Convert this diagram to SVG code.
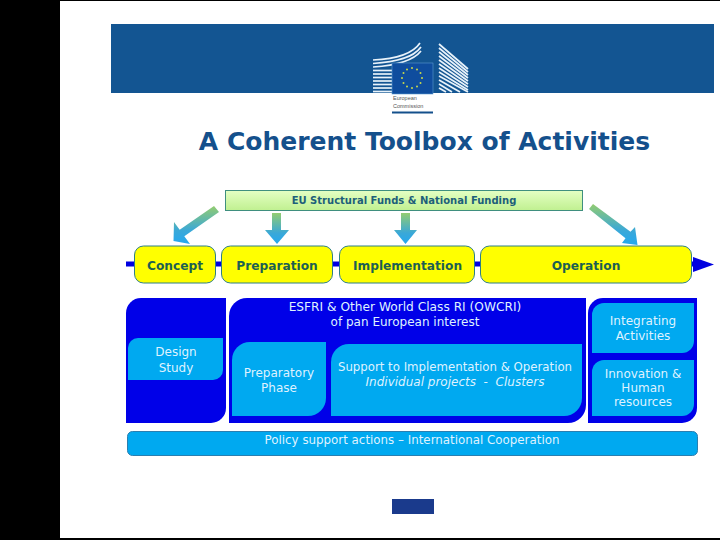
<svg xmlns="http://www.w3.org/2000/svg" width="720" height="540" viewBox="0 0 720 540">
<style>
.t{font-family:"DejaVu Sans","Liberation Sans",sans-serif;text-anchor:middle}
.w{fill:#dff2ff;font-size:12px}
.y{fill:#1d5f52;font-size:12.200px;font-weight:bold}
.deep{fill:#0000e8}
.light{fill:#00a9f0}
.yel{fill:#ffff00;stroke:#2f7f86;stroke-width:1}
.arr{fill:url(#ag)}
.st{fill:none;stroke:#e8f2fa;stroke-width:1.700}
</style>
<defs>
<linearGradient id="ag" x1="0" y1="0" x2="0" y2="1"><stop offset="0" stop-color="#93cc70"/><stop offset="0.650" stop-color="#3aa8d8"/><stop offset="1" stop-color="#24a8f0"/></linearGradient>
<linearGradient id="gb" x1="0" y1="0" x2="0" y2="1"><stop offset="0" stop-color="#e4ffc4"/><stop offset="1" stop-color="#c0f090"/></linearGradient>
</defs>
<rect width="720" height="540" fill="#fff"/>
<rect width="60" height="540" fill="#000"/>
<rect width="720" height="1" fill="#000"/>
<rect y="538" width="720" height="2" fill="#000"/>
<g id="banner">
<rect x="111" y="24" width="603" height="69" fill="#135592"/>
<g class="st">
<path d="M373 60C395 59 412 55 420 43"/><path d="M373 63.500C396 62 413 58 421 47"/><path d="M373 67C396 65.500 413 61 421 51"/><path d="M373 70.500H392"/><path d="M373 74H392"/><path d="M373 77.500H392"/><path d="M373 81H392"/><path d="M373 84.500H392"/><path d="M373 88H392"/><path d="M373 91.500H392"/>
<path d="M439 44L468 69"/><path d="M439 48L468 72"/><path d="M439 52L468 75"/><path d="M439 56L468 78"/><path d="M439 60L468 81"/><path d="M439 64L468 84"/><path d="M439 68L468 87"/><path d="M439 72L468 90"/><path d="M439 76L468 92"/><path d="M439 80L460 92"/><path d="M439 84L452 92"/><path d="M439 88L446 92"/>
</g>
<rect x="392" y="63" width="41" height="31" fill="#0f4d9e" stroke="#5c9ad0" stroke-width="0.6"/>
<g fill="#c9d84a"><circle cx="412" cy="68" r="1"/><circle cx="417" cy="69.500" r="1"/><circle cx="420.500" cy="73" r="1"/><circle cx="422" cy="78" r="1"/><circle cx="420.500" cy="83" r="1"/><circle cx="417" cy="86.500" r="1"/><circle cx="412" cy="88" r="1"/><circle cx="407" cy="86.500" r="1"/><circle cx="403.500" cy="83" r="1"/><circle cx="402" cy="78" r="1"/><circle cx="403.500" cy="73" r="1"/><circle cx="407" cy="69.500" r="1"/></g>
<text x="393" y="100" font-family="Liberation Sans,sans-serif" font-size="5.500" fill="#555">European</text>
<text x="393" y="108" font-family="Liberation Sans,sans-serif" font-size="5.500" fill="#555">Commission</text>
<rect x="392" y="111.500" width="41" height="2" fill="#14508c"/>
</g>
<text class="t" x="424.500" y="150" font-size="25" font-weight="bold" fill="#14508c">A Coherent Toolbox of Activities</text>
<g id="funding">
<rect x="225.500" y="190.500" width="357" height="20" fill="url(#gb)" stroke="#3f8f7f"/>
<text class="t" x="404" y="204" font-size="10" font-weight="bold" fill="#1d5f7a">EU Structural Funds &amp; National Funding</text>
</g>
<g id="connectors">
<rect x="126" y="261.500" width="570" height="5" fill="#0000e0"/>
<path d="M693 257L714 264.500L693 272Z" fill="#0000e0"/>
<path class="arr" d="M214 206L219 212L184.300 236.300L190 244L173.500 241L174 222L179.700 229.700Z"/>
<path class="arr" d="M272 213H281V230H289L277 244L265 230H272Z"/>
<path class="arr" d="M401 213H410V230H417L405.500 244L394 230H401Z"/>
<path class="arr" d="M593 204L630.500 231.800L635 227L637.500 245L622 243L625.500 238.200L589 209Z"/>
</g>
<g id="concept"><rect class="yel" x="134.500" y="246" width="81" height="37" rx="9"/><text class="t y" x="175" y="270">Concept</text></g>
<g id="preparation"><rect class="yel" x="221.500" y="246" width="111" height="37" rx="9"/><text class="t y" x="277" y="270">Preparation</text></g>
<g id="implementation"><rect class="yel" x="339.500" y="246" width="135" height="37" rx="9"/><text class="t y" x="407.500" y="270">Implementation</text></g>
<g id="operation"><rect class="yel" x="480.500" y="246" width="211" height="37" rx="9"/><text class="t y" x="586" y="270">Operation</text></g>
<g id="design-block">
<path class="deep" d="M141 298H226V408A15 15 0 0 1 211 423H126V313A15 15 0 0 1 141 298Z"/>
<path class="light" d="M138 338H223V370A10 10 0 0 1 213 380H128V348A10 10 0 0 1 138 338Z"/>
<text class="t w" x="176" y="356">Design</text><text class="t w" x="176" y="372">Study</text>
</g>
<g id="esfri-block">
<path class="deep" d="M247 298H586V405A18 18 0 0 1 568 423H229V316A18 18 0 0 1 247 298Z"/>
<text class="t w" x="405" y="311" style="font-size:12.200px">ESFRI &amp; Other World Class RI (OWCRI)</text>
<text class="t w" x="405" y="326">of pan European interest</text>
</g>
<g id="preparatory">
<path class="light" d="M250 342H326V398A18 18 0 0 1 308 416H232V360A18 18 0 0 1 250 342Z"/>
<text class="t w" x="279" y="377">Preparatory</text><text class="t w" x="279" y="392">Phase</text>
</g>
<g id="support">
<path class="light" d="M349 344H582V398A18 18 0 0 1 564 416H331V362A18 18 0 0 1 349 344Z"/>
<text class="t w" x="455" y="371" style="font-size:11.750px">Support to Implementation &amp; Operation</text>
<text class="t w" x="455" y="386" font-style="italic" xml:space="preserve">Individual projects  -  Clusters</text>
</g>
<g id="right-block">
<path class="deep" d="M603 298H697V408A15 15 0 0 1 682 423H588V313A15 15 0 0 1 603 298Z"/>
</g>
<g id="integrating">
<path class="light" d="M604 303H694V341A12 12 0 0 1 682 353H592V315A12 12 0 0 1 604 303Z"/>
<text class="t w" x="643" y="325">Integrating</text><text class="t w" x="643" y="340">Activities</text>
</g>
<g id="innovation">
<path class="light" d="M604 360H694V404A12 12 0 0 1 682 416H592V372A12 12 0 0 1 604 360Z"/>
<text class="t w" x="643" y="378">Innovation &amp;</text><text class="t w" x="643" y="392">Human</text><text class="t w" x="643" y="406">resources</text>
</g>
<g id="policy">
<rect class="light" x="127.500" y="431.500" width="570" height="24" rx="5" stroke="#2a7fb0"/>
<text class="t w" x="412" y="444" style="font-size:11.850px">Policy support actions – International Cooperation</text>
</g>
<rect x="392" y="499" width="42" height="15" fill="#1a3a8c"/>
</svg>
